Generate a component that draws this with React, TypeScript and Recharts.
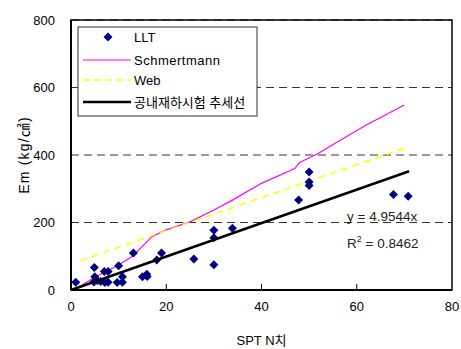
import React from "react";
import {ScatterChart, Scatter, XAxis, YAxis, CartesianGrid, ReferenceLine, ReferenceArea} from "recharts";

// measured LLT points (SPT N, Em)
const lltN = [1, 4.9, 5, 5.5, 4.8, 6.2, 7, 7.8, 7.1, 7.8, 10, 9.7, 10.8, 10.8, 13.1, 15, 15.9, 16, 18, 19, 25.8, 30, 30, 30, 33.9, 47.8, 50, 50, 50, 67.7, 70.8];
const lltEm = [23, 67, 39, 28, 24, 25, 55, 55, 22, 23, 72, 22, 39, 23, 110, 39, 47, 40, 89, 110, 92, 177, 155, 75, 183, 267, 350, 320, 310, 283, 278];

const schN = [2, 5, 10, 13, 17, 20, 25, 30, 34, 40, 47, 48, 52, 56, 62, 70];
const schEm = [12, 38, 74, 101, 158, 178, 202, 237, 267, 316, 360, 378, 405, 439, 489, 548];

const webN = [2, 20, 40, 70];
const webEm = [87, 176, 274, 420];

const trendN = [0, 71];
const trendEm = [0, 352];

const xTicks = [0, 20, 40, 60, 80];
const yTicks = [0, 200, 400, 600, 800];

const toPts = (xs: number[], ys: number[]) => xs.map((x, i) => ({x, y: ys[i]}));

const FONT = '"Liberation Sans", "Noto Sans CJK KR", sans-serif';

const Diamond = (props: any) => {
    const {cx, cy} = props;
    if (cx == null || cy == null) return <g/>;
    return <polygon points={`${cx},${cy - 4.5} ${cx + 4.5},${cy} ${cx},${cy + 4.5} ${cx - 4.5},${cy}`} fill="#000080"/>;
};

const NoDot = () => <g/>;

const ChartLegend = () => (
    <svg width={181} height={91} style={{position: "absolute", left: 77, top: 26}}>
        <rect x={1} y={1} width={179} height={89} fill="#fff" stroke="#333" strokeWidth={1}/>
        <polygon points="31,6.5 35.5,11 31,15.5 26.5,11" fill="#000080"/>
        <text x={57} y={15.5} fontSize={13} fontFamily={FONT}>LLT</text>
        <line x1={6} x2={54} y1={34} y2={34} stroke="#ff00ff" strokeWidth={1.2}/>
        <text x={57} y={38.5} fontSize={13} fontFamily={FONT} letterSpacing={0.5}>Schmertmann</text>
        <line x1={6} x2={54} y1={54} y2={54} stroke="#ffff00" strokeWidth={1.5} strokeDasharray="7 4"/>
        <text x={57} y={58.5} fontSize={13} fontFamily={FONT}>Web</text>
        <line x1={6} x2={54} y1={76} y2={76} stroke="#000" strokeWidth={2.5}/>
        <text x={57} y={80.5} fontSize={13} fontFamily={FONT}>공내재하시험 추세선</text>
    </svg>
);

const App = () => {
    return (
        <div style={{position: "absolute", left: 0, top: 0, width: 461, height: 349, background: "#fff"}}>
            <ScatterChart width={461} height={349} margin={{top: 20, right: 9, left: 10, bottom: 29}}>
                <CartesianGrid horizontal vertical={false} stroke="#333" strokeDasharray="8 5"/>
                <XAxis type="number" dataKey="x" domain={[0, 80]} ticks={xTicks} height={30}
                       tickLine={false} tickSize={0} tickMargin={12}
                       axisLine={{stroke: "#000", strokeWidth: 2}}
                       tick={{fill: "#000", fontSize: 13, fontFamily: FONT}}
                       label={{value: "SPT N치", position: "center", dy: 35, fill: "#000", fontSize: 13, fontFamily: FONT}}/>
                <YAxis type="number" dataKey="y" domain={[0, 800]} ticks={yTicks} width={61}
                       tickLine={false} tickSize={0} tickMargin={16}
                       axisLine={{stroke: "#000", strokeWidth: 2}}
                       tick={{fill: "#000", fontSize: 13, fontFamily: FONT}}
                       label={{value: "Em (kg/㎠)", angle: -90, position: "center", dx: -16, fill: "#000", fontSize: 14, letterSpacing: 1.2, fontFamily: FONT}}/>
                <ReferenceArea x1={0} x2={80} y1={0} y2={800} fill="#fff" fillOpacity={0} stroke="#000" strokeWidth={1.5}/>
                {xTicks.slice(1, -1).map(t => (
                    <ReferenceLine key={t} segment={[{x: t, y: 0}, {x: t, y: 18}]} stroke="#000" strokeWidth={1}/>
                ))}
                <Scatter name="Schmertmann" data={toPts(schN, schEm)} line={{stroke: "#ff00ff", strokeWidth: 1.2}}
                         shape={NoDot} isAnimationActive={false}/>
                <Scatter name="Web" data={toPts(webN, webEm)} line={{stroke: "#ffff00", strokeWidth: 1.5, strokeDasharray: "7 5"}}
                         shape={NoDot} isAnimationActive={false}/>
                <Scatter name="LLT" data={toPts(lltN, lltEm)} shape={Diamond} isAnimationActive={false}/>
                <Scatter name="공내재하시험 추세선" data={toPts(trendN, trendEm)} line={{stroke: "#000", strokeWidth: 2.5}}
                         shape={NoDot} isAnimationActive={false}/>
            </ScatterChart>
            <ChartLegend/>
            <div style={{position: "absolute", left: 347, top: 206, fontFamily: FONT, fontSize: 13.5, color: "#222", lineHeight: "22px"}}>
                <div>y = 4.9544x</div>
                <div>R<sup style={{fontSize: 9}}>2</sup> = 0.8462</div>
            </div>
        </div>
    );
};

export default App;
